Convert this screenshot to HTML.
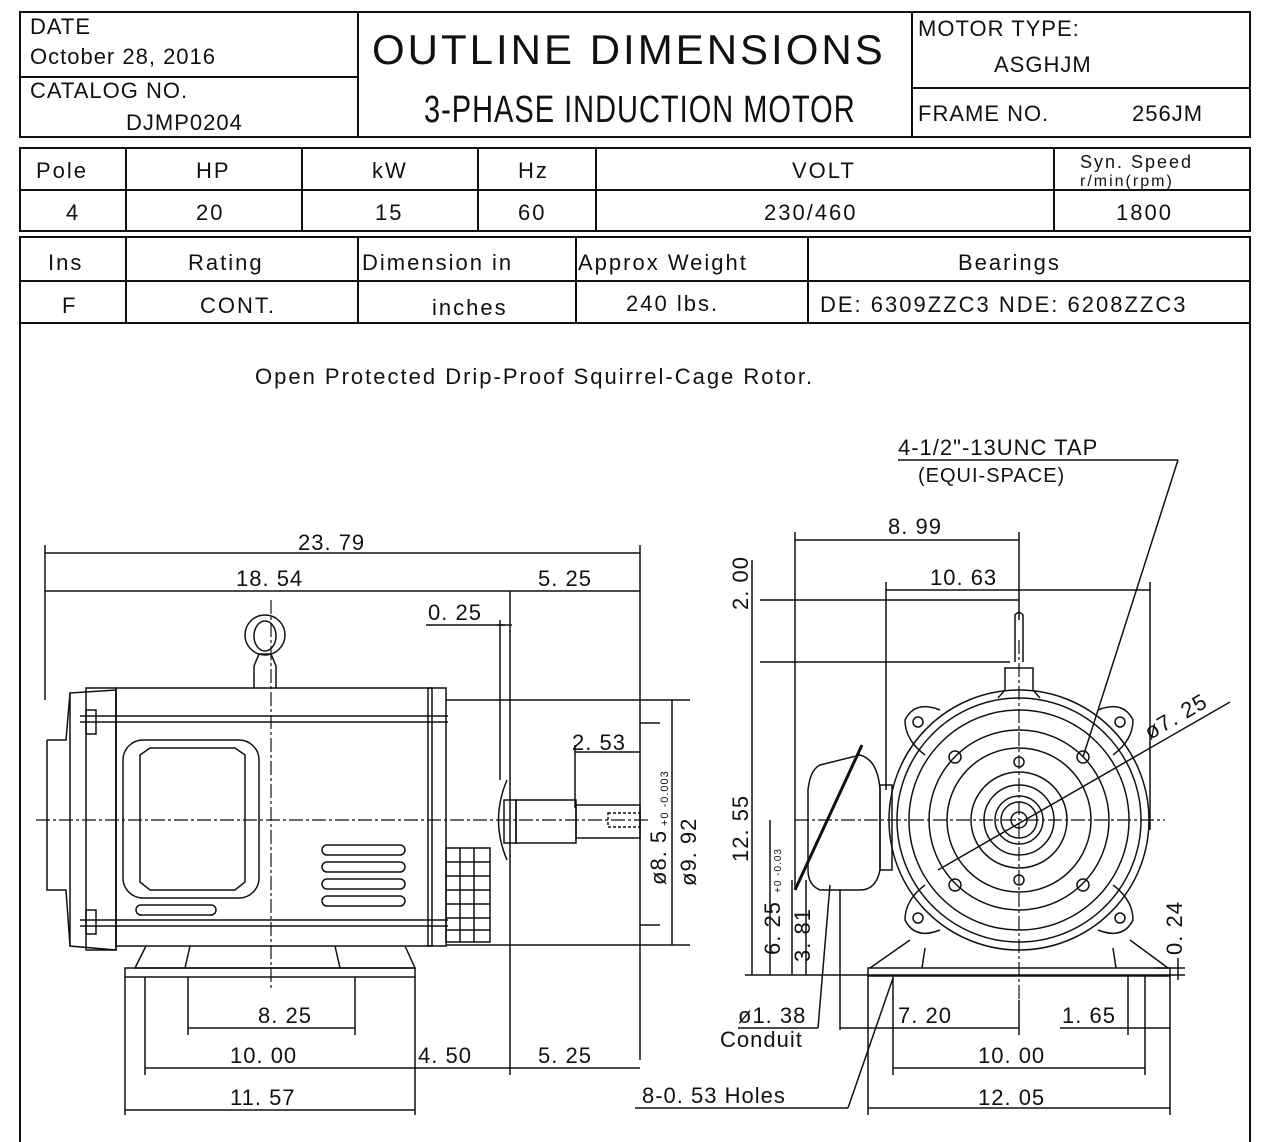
<!DOCTYPE html>
<html><head><meta charset="utf-8"><style>
html,body{margin:0;padding:0;background:#fff;}
svg{display:block;}
text{font-family:"Liberation Sans",sans-serif;fill:#111;}
.h{font-size:24px;letter-spacing:1px;}
.m{font-size:22px;letter-spacing:2px;}
.d{font-size:22px;letter-spacing:1px;}
</style></head><body>
<svg width="1280" height="1142" viewBox="0 0 1280 1142" xmlns="http://www.w3.org/2000/svg">
<g fill="none" stroke="#111" stroke-width="2">
<rect x="20" y="12" width="1230" height="125"/>
<line x1="358" y1="12" x2="358" y2="137"/><line x1="912" y1="12" x2="912" y2="137"/>
<line x1="20" y1="77" x2="358" y2="77"/><line x1="912" y1="88" x2="1250" y2="88"/>
<rect x="20" y="148" width="1230" height="83"/>
<line x1="20" y1="190" x2="1250" y2="190"/>
<line x1="126" y1="148" x2="126" y2="231"/><line x1="302" y1="148" x2="302" y2="231"/><line x1="478" y1="148" x2="478" y2="231"/><line x1="596" y1="148" x2="596" y2="231"/><line x1="1054" y1="148" x2="1054" y2="231"/>
<rect x="20" y="237" width="1230" height="86"/>
<line x1="20" y1="281" x2="1250" y2="281"/>
<line x1="126" y1="237" x2="126" y2="323"/><line x1="358" y1="237" x2="358" y2="323"/><line x1="576" y1="237" x2="576" y2="323"/><line x1="808" y1="237" x2="808" y2="323"/>
<polyline points="20,323 20,1142"/><polyline points="1250,323 1250,1142"/>
</g>
<text x="30" y="34" class="h" style="font-size:22px">DATE</text>
<text x="30" y="64" class="h" style="font-size:22px">October 28, 2016</text>
<text x="30" y="98" class="h" style="font-size:22px">CATALOG NO.</text>
<text x="126" y="130" class="h" style="font-size:22px">DJMP0204</text>
<text x="372" y="64" style="font-size:42px;letter-spacing:3px">OUTLINE DIMENSIONS</text>
<text transform="translate(424,122) scale(1,1.3)" style="font-size:29px;letter-spacing:1px">3-PHASE INDUCTION MOTOR</text>
<text x="918" y="36" class="h" style="font-size:22px">MOTOR TYPE:</text>
<text x="994" y="72" class="h" style="font-size:22px">ASGHJM</text>
<text x="918" y="121" class="h" style="font-size:22px">FRAME NO.</text>
<text x="1132" y="121" class="h" style="font-size:22px">256JM</text>
<g class="m" font-size="22">
<text x="36" y="178" class="m">Pole</text><text x="196" y="178" class="m">HP</text><text x="372" y="178" class="m">kW</text><text x="518" y="178" class="m">Hz</text><text x="792" y="178" class="m">VOLT</text>
<text x="1080" y="168" style="font-size:18px">Syn. Speed</text><text x="1080" y="186" style="font-size:16px">r/min(rpm)</text>
<text x="66" y="220" class="m">4</text><text x="196" y="220" class="m">20</text><text x="375" y="220" class="m">15</text><text x="518" y="220" class="m">60</text><text x="764" y="220" class="m">230/460</text><text x="1116" y="220" class="m">1800</text>
<text x="48" y="270" class="m">Ins</text><text x="188" y="270" class="m">Rating</text><text x="362" y="270" class="m">Dimension in</text><text x="578" y="270" class="m">Approx Weight</text><text x="958" y="270" class="m">Bearings</text>
<text x="62" y="313" class="m">F</text><text x="200" y="313" class="m">CONT.</text><text x="432" y="315" class="m">inches</text><text x="626" y="311" class="m">240 lbs.</text><text x="820" y="312" class="m">DE: 6309ZZC3 NDE: 6208ZZC3</text>
<text x="255" y="384" class="m">Open Protected Drip-Proof Squirrel-Cage Rotor.</text>
</g>

<g fill="none" stroke="#111" stroke-width="1.5">
<line x1="45" y1="553" x2="640" y2="553"/><line x1="45" y1="591" x2="640" y2="591"/>
<line x1="45" y1="545" x2="45" y2="700"/><line x1="640" y1="545" x2="640" y2="1060"/>
<line x1="510" y1="591" x2="510" y2="1075"/>
<line x1="426" y1="625" x2="505" y2="625"/><line x1="500" y1="620" x2="500" y2="780"/><line x1="497" y1="625" x2="512" y2="625"/>
<path d="M70,693 L116,690 L116,950 L70,946 Z"/>
<path d="M47,740 L66,740 L70,693 M47,740 L47,890 L66,890 L70,946"/>
<rect x="86" y="688" width="30" height="262"/>
<rect x="116" y="688" width="316" height="258"/>
<rect x="428" y="688" width="18" height="258"/>
<line x1="80" y1="716" x2="448" y2="716"/><line x1="80" y1="722" x2="448" y2="722"/>
<line x1="80" y1="920" x2="448" y2="920"/><line x1="80" y1="926" x2="448" y2="926"/>
<rect x="86" y="710" width="10" height="24"/><rect x="86" y="910" width="10" height="24"/>
<rect x="123" y="740" width="136" height="158" rx="20"/>
<path d="M140,755 L150,748 L235,748 L245,755 L245,882 L235,890 L150,890 L140,882 Z"/>
<rect x="322" y="845" width="83" height="10" rx="5"/><rect x="322" y="862" width="83" height="10" rx="5"/><rect x="322" y="879" width="83" height="10" rx="5"/><rect x="322" y="896" width="83" height="10" rx="5"/>
<rect x="136" y="905" width="80" height="10" rx="5"/>
<rect x="446" y="848" width="44" height="94"/>
<line x1="460" y1="848" x2="460" y2="942"/><line x1="474" y1="848" x2="474" y2="942"/>
<line x1="446" y1="862" x2="490" y2="862"/><line x1="446" y1="876" x2="490" y2="876"/><line x1="446" y1="890" x2="490" y2="890"/><line x1="446" y1="904" x2="490" y2="904"/><line x1="446" y1="918" x2="490" y2="918"/><line x1="446" y1="930" x2="490" y2="930"/>
<line x1="446" y1="700" x2="500" y2="700"/><line x1="446" y1="945" x2="500" y2="945"/>
<circle cx="265" cy="635" r="20"/><ellipse cx="265" cy="636" rx="11" ry="15"/>
<path d="M254,688 L254,666 L259,654 L271,654 L276,666 L276,688"/>
<path d="M146,946 L135,968 L415,968 L405,946"/><path d="M190,946 L185,968 M335,946 L340,968"/>
<rect x="125" y="968" width="290" height="9"/>
<path d="M507,780 Q490,820 507,860"/>
<rect x="504" y="800" width="12" height="43"/>
<rect x="516" y="800" width="60" height="43"/>
<rect x="576" y="805" width="64" height="33"/>
<rect x="608" y="813" width="32" height="14" stroke-dasharray="3,2"/>
<line x1="575" y1="752" x2="640" y2="752"/><line x1="575" y1="745" x2="575" y2="808"/>
<line x1="500" y1="700" x2="690" y2="700"/><line x1="500" y1="945" x2="690" y2="945"/>
<line x1="672" y1="700" x2="672" y2="945"/>
<line x1="640" y1="723" x2="660" y2="723"/><line x1="640" y1="925" x2="660" y2="925"/>
<line x1="125" y1="977" x2="125" y2="1115"/><line x1="145" y1="977" x2="145" y2="1075"/>
<line x1="188" y1="977" x2="188" y2="1035"/><line x1="355" y1="977" x2="355" y2="1035"/>
<line x1="415" y1="977" x2="415" y2="1115"/>
<line x1="188" y1="1028" x2="355" y2="1028"/>
<line x1="145" y1="1068" x2="640" y2="1068"/>
<line x1="125" y1="1110" x2="415" y2="1110"/>
</g>
<g stroke="#111" stroke-width="1.2" stroke-dasharray="14,3,3,3" fill="none">
<line x1="36" y1="820" x2="650" y2="820"/><line x1="271" y1="600" x2="271" y2="990"/>
</g>
<g class="d">
<text x="298" y="550" class="d">23. 79</text>
<text x="236" y="586" class="d">18. 54</text>
<text x="538" y="586" class="d">5. 25</text>
<text x="428" y="620" class="d">0. 25</text>
<text x="572" y="750" class="d">2. 53</text>
<text x="258" y="1023" class="d">8. 25</text>
<text x="230" y="1063" class="d">10. 00</text>
<text x="418" y="1063" class="d">4. 50</text>
<text x="538" y="1063" class="d">5. 25</text>
<text x="230" y="1105" class="d">11. 57</text>
<text transform="translate(666,885) rotate(-90)" class="d">ø8. 5</text>
<text transform="translate(668,826) rotate(-90)" style="font-size:11px">+0 -0.003</text>
<text transform="translate(696,886) rotate(-90)" class="d">ø9. 92</text>
</g>

<g fill="none" stroke="#111" stroke-width="1.5">
<line x1="795" y1="540" x2="1019" y2="540"/><line x1="795" y1="532" x2="795" y2="890"/>
<line x1="1019" y1="532" x2="1019" y2="620"/>
<line x1="886" y1="590" x2="1150" y2="590"/><line x1="886" y1="582" x2="886" y2="790"/><line x1="1150" y1="582" x2="1150" y2="830"/>
<line x1="760" y1="600" x2="1019" y2="600"/><line x1="760" y1="662" x2="1010" y2="662"/>
<line x1="752" y1="560" x2="752" y2="975"/>
<line x1="770" y1="820" x2="770" y2="975"/><line x1="792" y1="880" x2="792" y2="975"/><line x1="806" y1="880" x2="806" y2="975"/>
<line x1="745" y1="975" x2="1185" y2="975"/>
<line x1="1178" y1="958" x2="1178" y2="980"/><line x1="1155" y1="968" x2="1185" y2="968"/>
<path d="M1015,662 L1015,615 Q1019,610 1023,615 L1023,662"/>
<path d="M1005,690 L1005,668 L1033,668 L1033,690 L1040,698"/><path d="M1005,690 L998,698"/>
<circle cx="1019" cy="820" r="130"/>
<circle cx="1019" cy="820" r="122"/>
<circle cx="1019" cy="820" r="110"/>
<circle cx="1019" cy="820" r="90"/>
<circle cx="1019" cy="820" r="72"/>
<circle cx="1019" cy="820" r="48"/>
<circle cx="1019" cy="820" r="35"/>
<circle cx="1019" cy="820" r="24"/>
<circle cx="1019" cy="820" r="18"/>
<circle cx="1019" cy="820" r="8"/>
<path d="M925,755 Q905,740 905,720 Q915,700 940,710"/>
<path d="M1113,755 Q1133,740 1133,720 Q1123,700 1098,710"/>
<path d="M925,885 Q905,900 905,920 Q915,940 940,930"/>
<path d="M1113,885 Q1133,900 1133,920 Q1123,940 1098,930"/>
<circle cx="918" cy="722" r="5"/><circle cx="1120" cy="722" r="5"/><circle cx="918" cy="918" r="5"/><circle cx="1120" cy="918" r="5"/>
<circle cx="955" cy="757" r="6"/><circle cx="1083" cy="757" r="6"/><circle cx="955" cy="885" r="6"/><circle cx="1083" cy="885" r="6"/>
<circle cx="1019" cy="762" r="5"/><circle cx="1019" cy="880" r="5"/>
<path d="M820,765 L860,755 Q878,760 880,790 L880,870 Q876,890 860,890 L820,890 Q808,885 808,870 L808,790 Q810,770 820,765 Z"/>
<line x1="795" y1="890" x2="862" y2="745" stroke-width="3"/>
<rect x="880" y="785" width="12" height="85"/>
<path d="M910,940 L870,968 M925,948 L922,968 M1130,940 L1168,968 M1113,948 L1116,968"/>
<rect x="868" y="968" width="302" height="8"/>
<line x1="898" y1="460" x2="1178" y2="460"/><line x1="1178" y1="460" x2="1083" y2="757"/>
<line x1="938" y1="870" x2="1230" y2="702"/>
<line x1="1019" y1="1000" x2="1019" y2="1035"/>
<line x1="893" y1="976" x2="893" y2="1075"/><line x1="1145" y1="976" x2="1145" y2="1075"/>
<line x1="868" y1="976" x2="868" y2="1115"/><line x1="1170" y1="976" x2="1170" y2="1115"/>
<line x1="1128" y1="976" x2="1128" y2="1035"/>
<line x1="840" y1="890" x2="840" y2="1030"/>
<line x1="840" y1="1028" x2="1019" y2="1028"/><line x1="1060" y1="1028" x2="1170" y2="1028"/>
<line x1="893" y1="1068" x2="1145" y2="1068"/>
<line x1="868" y1="1108" x2="1170" y2="1108"/>
<line x1="635" y1="1108" x2="848" y2="1108"/><line x1="848" y1="1108" x2="893" y2="978"/>
<line x1="738" y1="1028" x2="818" y2="1028"/><line x1="818" y1="1028" x2="830" y2="885"/>
</g>
<g stroke="#111" stroke-width="1.2" stroke-dasharray="14,3,3,3" fill="none">
<line x1="795" y1="820" x2="1165" y2="820"/><line x1="1019" y1="640" x2="1019" y2="1000"/>
</g>
<g class="d">
<text x="888" y="534" class="d">8. 99</text>
<text x="930" y="585" class="d">10. 63</text>
<text x="898" y="455" class="d">4-1/2"-13UNC TAP</text>
<text x="918" y="482" class="d" style="font-size:20px">(EQUI-SPACE)</text>
<text transform="translate(748,610) rotate(-90)" class="d">2. 00</text>
<text transform="translate(748,862) rotate(-90)" class="d">12. 55</text>
<text transform="translate(780,955) rotate(-90)" class="d">6. 25</text>
<text transform="translate(781,893) rotate(-90)" style="font-size:10px">+0 -0.03</text>
<text transform="translate(810,962) rotate(-90)" class="d">3. 81</text>
<text transform="translate(1182,955) rotate(-90)" class="d">0. 24</text>
<text transform="translate(1150,740) rotate(-30)" class="d">ø7. 25</text>
<text x="738" y="1023" class="d">ø1. 38</text>
<text x="720" y="1047" class="d">Conduit</text>
<text x="898" y="1023" class="d">7. 20</text>
<text x="1062" y="1023" class="d">1. 65</text>
<text x="978" y="1063" class="d">10. 00</text>
<text x="978" y="1105" class="d">12. 05</text>
<text x="642" y="1103" class="d">8-0. 53 Holes</text>
</g>
</svg>
</body></html>
